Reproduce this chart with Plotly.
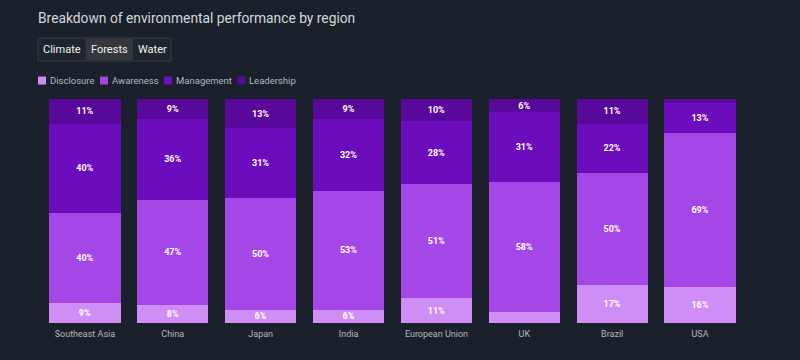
import plotly.graph_objects as go

regions = ["Southeast Asia", "China", "Japan", "India", "European Union", "UK", "Brazil", "USA"]
disclosure = [9, 8, 6, 6, 11, 5, 17, 16]
awareness = [40, 47, 50, 53, 51, 58, 50, 69]
management = [40, 36, 31, 32, 28, 31, 22, 13]
leadership = [11, 9, 13, 9, 10, 6, 11, 2]
series_names = ["Disclosure", "Awareness", "Management", "Leadership"]
series_values = [disclosure, awareness, management, leadership]
tabs = ["Climate", "Forests", "Water"]

colors = ["#cf8ef6", "#a447e6", "#6b0cbd", "#5a079c"]
BG = "#1b212a"
W, H = 800, 360
L, R, T, B = 41, 56, 99, 37
PW, PH = W - L - R, H - T - B


def px(x):
    return (x - L) / PW


def py(y):
    return (H - B - y) / PH


fig = go.Figure()
for name, vals, col in zip(series_names, series_values, colors):
    fig.add_trace(go.Bar(
        name=name, x=regions, y=vals, marker=dict(color=col, line=dict(width=0)),
        text=[f"{v}%" if v >= 6 else "" for v in vals],
        textposition="inside", insidetextanchor="middle", textangle=0,
        constraintext="none",
        textfont=dict(family="Roboto", size=9, color="#ffffff", weight="bold"),
        showlegend=False,
    ))

shapes = []
annotations = []

# tab buttons
tab_edges = [38, 85.5, 133, 171]
shapes.append(dict(type="rect", xref="paper", yref="paper",
                   x0=px(tab_edges[0]), x1=px(tab_edges[-1]), y0=py(61), y1=py(38),
                   fillcolor="#1f252d", line=dict(color="#363c45", width=1), layer="below"))
shapes.append(dict(type="rect", xref="paper", yref="paper",
                   x0=px(tab_edges[1]), x1=px(tab_edges[2]), y0=py(60.5), y1=py(38.5),
                   fillcolor="#35373b", line=dict(width=0), layer="below"))
for i, tname in enumerate(tabs):
    annotations.append(dict(text=tname, xref="paper", yref="paper",
                            x=px((tab_edges[i] + tab_edges[i + 1]) / 2), y=py(49.5),
                            xanchor="center", yanchor="middle", showarrow=False,
                            font=dict(family="Roboto", size=11, color="#f2f2f2")))

# legend
leg_x = [38, 100, 164, 237]
for name, col, lx in zip(series_names, colors, leg_x):
    shapes.append(dict(type="rect", xref="paper", yref="paper",
                       x0=px(lx), x1=px(lx + 8), y0=py(84.5), y1=py(76.5),
                       fillcolor=col, line=dict(width=0)))
    annotations.append(dict(text=name, xref="paper", yref="paper",
                            x=px(lx + 9.5), y=py(80.5), xanchor="left", yanchor="middle",
                            showarrow=False,
                            font=dict(family="Roboto", size=9.5, color="#b4b7bd")))

fig.update_layout(
    width=W, height=H,
    barmode="stack", bargap=0.19,
    paper_bgcolor=BG, plot_bgcolor=BG,
    margin=dict(l=L, r=R, t=T, b=B),
    title=dict(text="Breakdown of environmental performance by region",
               x=38 / W, xanchor="left", xref="container",
               y=1 - 18 / H, yanchor="middle", yref="container",
               font=dict(family="Roboto", size=13.8, color="#d4d6da")),
    xaxis=dict(showgrid=False, zeroline=False, showline=False, ticks="",
               ticklabelstandoff=4,
               tickfont=dict(family="Roboto", size=9, color="#b4b7bd")),
    yaxis=dict(range=[0, 100], visible=False, showgrid=False),
    shapes=shapes, annotations=annotations,
    showlegend=False,
    uniformtext=dict(mode=False),
)

fig.write_html(
    "out.html",
    config={"displayModeBar": False},
    post_script="document.body.style.margin='0';document.body.style.background='%s';" % BG,
)
